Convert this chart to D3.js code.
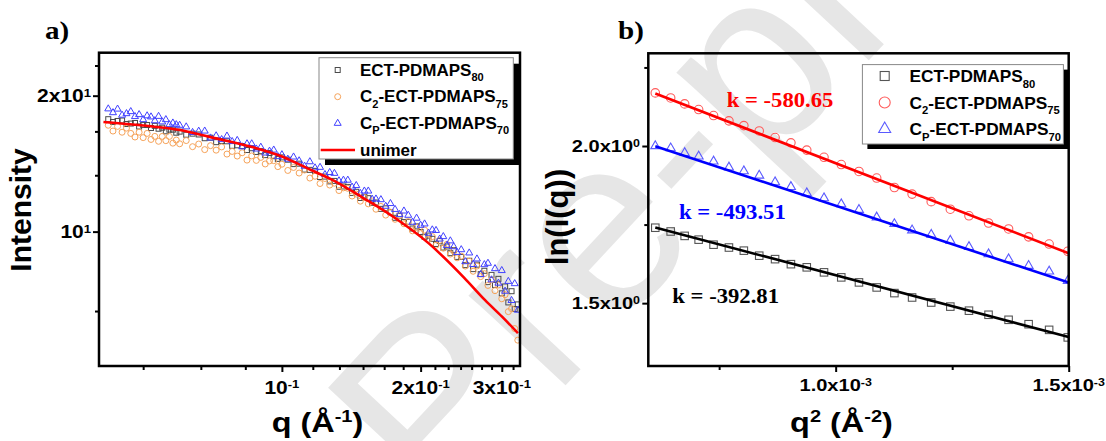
<!DOCTYPE html>
<html><head><meta charset="utf-8">
<script src="https://cdn.jsdelivr.net/npm/d3@7"></script>
<style>body{margin:0;background:#fff}svg{display:block}</style>
</head><body>
<svg id="c" width="1106" height="441"></svg>
<script>
// ---------- DATA ----------
// Panel a: SAXS intensity vs q
const qA = [0.042,0.043,0.044,0.045,0.046,0.047,0.048,0.049,0.050,0.051,0.052,0.053,0.054,0.055,0.056,0.057,0.058,0.059,0.060,
0.062,0.064,0.066,0.068,0.070,0.072,0.074,0.076,0.078,0.080,0.082,0.084,0.086,0.088,0.090,0.092,0.094,0.096,0.098,0.100,
0.103,0.106,0.109,0.112,0.115,0.118,0.121,0.124,0.127,0.130,0.133,0.136,0.139,0.142,0.145,0.148,0.151,0.154,0.157,0.160,
0.164,0.168,0.172,0.176,0.180,0.184,0.188,0.192,0.196,0.200,0.204,0.208,0.212,0.216,0.220,0.224,0.228,0.232,0.236,0.240,
0.245,0.250,0.255,0.260,0.265,0.270,0.275,0.280,0.285,0.290,0.295,0.300,0.305,0.310,0.315,0.320,0.325];
const intECT80 = [17.74,17.49,17.58,17.62,17.31,17.35,17.40,17.09,17.23,17.22,16.96,17.15,16.90,16.99,16.68,16.82,16.82,16.56,16.65,
16.39,16.48,16.41,16.10,16.14,15.78,15.87,15.85,15.49,15.53,15.47,15.16,15.30,15.01,15.07,14.77,14.93,14.69,14.49,14.60,
14.43,14.11,14.14,13.72,13.70,13.63,13.21,13.24,12.92,12.95,12.57,12.59,12.56,12.18,12.25,11.87,11.94,11.86,11.58,11.60,
11.23,11.26,11.04,10.73,10.84,10.50,10.51,10.16,10.27,9.98,9.74,9.80,9.64,9.39,9.53,9.22,9.27,8.96,9.10,8.79,
8.79,8.43,8.62,8.26,8.45,8.05,8.19,7.73,8.02,7.62,7.86,7.30,7.56,6.97,7.38,6.74,6.90];
const intC2 = [17.2,16.7,17.1,16.6,16.95,16.5,16.2,16.6,16.15,16.5,16.0,16.25,15.85,16.25,15.9,16.25,15.7,15.95,15.65,
15.91,15.42,15.63,15.19,15.50,15.15,15.40,14.85,15.05,14.70,14.95,14.40,14.71,14.38,14.60,14.12,14.34,14.36,13.93,14.10,
13.66,13.87,13.48,13.69,13.14,13.26,12.78,13.11,12.68,12.80,12.33,12.50,12.47,11.99,12.11,11.68,11.90,11.52,11.69,11.21,
11.37,10.88,11.04,10.65,10.86,10.41,10.52,10.04,10.22,9.90,10.08,9.61,9.75,9.33,9.56,9.19,9.37,8.92,9.06,8.75,
8.82,8.39,8.60,8.17,8.39,7.95,8.07,7.60,7.82,7.40,7.62,7.10,7.25,6.65,6.75,6.10,5.75];
const intCP = [18.7,18.34,18.68,18.11,18.25,18.44,17.98,18.16,17.7,18.05,17.95,17.6,18.0,17.5,17.7,17.25,17.4,17.25,17.2,
17.06,16.58,16.69,16.70,16.12,16.30,15.99,16.28,15.83,15.92,15.41,15.65,15.65,15.24,15.38,14.93,15.07,15.16,14.66,14.80,
14.47,14.63,14.35,13.96,14.28,13.84,13.88,13.38,13.52,13.46,12.96,13.00,13.00,12.55,12.65,12.15,12.30,12.30,11.80,11.81,
11.77,11.38,11.54,11.20,10.91,11.11,10.87,10.49,10.71,10.33,10.40,9.92,10.09,10.06,9.63,9.75,9.32,9.54,9.26,8.99,
9.12,8.58,8.97,8.46,8.70,8.04,8.45,8.51,7.82,8.28,7.69,8.20,7.38,7.76,7.04,7.67,6.70];
const qUnimer   = [0.041,0.050,0.0596,0.0707,0.0852,0.100,0.115,0.1308,0.150,0.1741,0.208,0.2487,0.276,0.300,0.3253];
const intUnimer = [17.49,17.18,16.81,16.15,15.44,14.67,13.73,12.91,11.88,10.80,9.43,7.90,7.05,6.49,5.96];

const xTicksA = [0.1,0.2,0.3];
const xTickLabelsA = [["10","-1"],["2x10","-1"],["3x10","-1"]];
const xMinorA = [0.05,0.0667,0.0833,0.1167,0.1333,0.15,0.1667,0.1833,0.2148,0.2295,0.2442,0.258,0.2712,0.2851,0.3174];
const yTicksA = [20,10];
const yTickLabelsA = [["2x10","1"],["10","1"]];
const yMinorA = [23.33,16.67,13.33,6.67];

// Panel b: Guinier plot ln(I) vs q^2
const q2B = [0.613e-3,0.646e-3,0.676e-3,0.706e-3,0.738e-3,0.771e-3,0.803e-3,0.836e-3,0.870e-3,0.904e-3,0.938e-3,0.975e-3,1.012e-3,
1.050e-3,1.088e-3,1.126e-3,1.164e-3,1.205e-3,1.246e-3,1.286e-3,1.328e-3,1.371e-3,1.414e-3,1.458e-3,1.498e-3];
const lnECT80 = [1.740,1.728,1.714,1.702,1.686,1.677,1.667,1.651,1.640,1.624,1.614,1.598,1.582,1.566,1.550,1.532,1.518,1.502,1.489,1.476,1.463,1.447,1.433,1.415,1.391];
const lnC2 = [2.169,2.153,2.134,2.116,2.097,2.080,2.065,2.048,2.027,2.010,1.987,1.964,1.941,1.919,1.898,1.868,1.847,1.823,1.799,1.778,1.755,1.736,1.711,1.688,1.665];
const lnCP = [2.000,1.993,1.978,1.967,1.951,1.932,1.920,1.906,1.885,1.870,1.850,1.834,1.815,1.797,1.773,1.752,1.732,1.718,1.699,1.679,1.656,1.640,1.619,1.601,1.571];
const fitX = [0.613e-3,1.5e-3];
const fitECT80 = [1.741,1.392];
const fitC2 = [2.167,1.659];
const fitCP = [1.999,1.5655];
const slopeLabels = ["k = -392.81","k = -580.65","k = -493.51"];

const xTicksB = [1.0e-3,1.5e-3];
const xTickLabelsB = [["1.0x10","-3"],["1.5x10","-3"]];
const xMinorB = [0.75e-3,1.25e-3];
const yTicksB = [2.0,1.5];
const yTickLabelsB = [["2.0x10","0"],["1.5x10","0"]];
const yMinorB = [2.25,1.75];

const legendNames = [["ECT-PDMAPS","80"],["C","2","-ECT-PDMAPS","75"],["C","P","-ECT-PDMAPS","70"]];

// ---------- DRAWING ----------
const svg = d3.select('#c');
const SANS = 'Liberation Sans, Arial, Helvetica, sans-serif';
const SERIF = 'Liberation Serif, Times New Roman, serif';

// watermark (behind, deliberately running off the edges as in the reference)
svg.append('text').text('Pre-proof')
  .attr('transform','translate(440,520) rotate(-47)')
  .attr('font-family',SANS).attr('font-size',250).attr('fill','#e6e6e6');

function rich(g, x, y, parts, o){
  const fs=o.fs, sx=o.sx||1, rot=o.rot||0;
  const t=g.append('text')
    .attr('transform',`translate(${x},${y}) rotate(${rot}) scale(${sx},1)`)
    .attr('font-family',o.ff||SANS).attr('font-weight',o.fw||'bold')
    .attr('font-size',fs).attr('fill',o.fill||'#000')
    .attr('text-anchor',o.anchor||'start');
  let cur=0;
  parts.forEach((p,i)=>{
    const script = i%2===1;
    const target = script ? (o.mode==='sub' ? (o.subShift||0.33)*fs : -(o.supShift||0.34)*fs) : 0;
    t.append('tspan').attr('dy',target-cur).attr('font-size',script?fs*(o.scr||0.62):fs).text(p);
    cur=target;
  });
  return t;
}

function mark(g,type,x,y,s,color,sw){
  if(type==='sq') g.append('rect').attr('x',x-s/2).attr('y',y-s/2).attr('width',s).attr('height',s)
     .attr('fill','none').attr('stroke',color).attr('stroke-width',sw);
  else if(type==='ci') g.append('circle').attr('cx',x).attr('cy',y).attr('r',s/2)
     .attr('fill','none').attr('stroke',color).attr('stroke-width',sw);
  else g.append('path').attr('d',`M${x},${y-s*0.58}L${x-s/2},${y+s*0.29}L${x+s/2},${y+s*0.29}Z`)
     .attr('fill','none').attr('stroke',color).attr('stroke-width',sw);
}

function drawAxes(g, box, xs, ys, xMaj, xMin, yMaj, yMin){
  const ax=g.append('g').attr('transform',`translate(0,${box.b})`);
  ax.call(d3.axisBottom(xs).tickValues(xMaj).tickSize(6).tickFormat(''));
  const ax2=g.append('g').attr('transform',`translate(0,${box.b})`);
  ax2.call(d3.axisBottom(xs).tickValues(xMin).tickSize(4).tickFormat(''));
  const ay=g.append('g').attr('transform',`translate(${box.l},0)`);
  ay.call(d3.axisLeft(ys).tickValues(yMaj).tickSize(6).tickFormat(''));
  const ay2=g.append('g').attr('transform',`translate(${box.l},0)`);
  ay2.call(d3.axisLeft(ys).tickValues(yMin).tickSize(4).tickFormat(''));
  [ax,ax2,ay,ay2].forEach(a=>{a.select('.domain').remove();a.selectAll('line').attr('stroke','#000').attr('stroke-width',2);});
  g.append('rect').attr('x',box.l).attr('y',box.t).attr('width',box.r-box.l).attr('height',box.b-box.t)
    .attr('fill','none').attr('stroke','#000').attr('stroke-width',2.5);
}

function legendBox(g,x0,y0,x1,y1,off){
  g.append('rect').attr('x',x0+off).attr('y',y0+off).attr('width',x1-x0).attr('height',y1-y0).attr('fill','#000');
  g.append('rect').attr('x',x0).attr('y',y0).attr('width',x1-x0).attr('height',y1-y0)
    .attr('fill','#fff').attr('stroke','#888').attr('stroke-width',1);
}

// ===== Panel a =====
const A={l:99,r:520,t:52.7,b:366};
const xA=d3.scaleLog().domain([0.0401,0.3286]).range([A.l,A.r]);
const yA=d3.scaleLog().domain([5.04,24.9]).range([A.b,A.t]);
const gA=svg.append('g');
svg.append('clipPath').attr('id','clipA').append('rect').attr('x',A.l).attr('y',A.t).attr('width',A.r-A.l).attr('height',A.b-A.t);
svg.append('clipPath').attr('id','clipB').append('rect').attr('x',648.3).attr('y',53.3).attr('width',420.4).attr('height',312.7);

const pA=gA.append('g').attr('clip-path','url(#clipA)');
qA.forEach((q,i)=>mark(pA,'sq',xA(q),yA(intECT80[i]),5,'#4a4a4a',1));
qA.forEach((q,i)=>mark(pA,'ci',xA(q),yA(intC2[i]),6,'#f6a35a',1));
qA.forEach((q,i)=>mark(pA,'tr',xA(q),yA(intCP[i]),7,'#4040ff',1));
pA.append('path').datum(qUnimer.map((q,i)=>[q,intUnimer[i]]))
  .attr('d',d3.line().x(d=>xA(d[0])).y(d=>yA(d[1])).curve(d3.curveMonotoneX))
  .attr('fill','none').attr('stroke','#ff0000').attr('stroke-width',2.6);

drawAxes(gA,A,xA,yA,xTicksA,xMinorA,yTicksA,yMinorA);
xTicksA.forEach((v,i)=>rich(gA,xA(v),394,xTickLabelsA[i],{fs:17.5,sx:1.2,anchor:'middle',supShift:0.32}));
yTicksA.forEach((v,i)=>rich(gA,91,yA(v)+6.5,yTickLabelsA[i],{fs:17.5,sx:1.2,anchor:'end',supShift:0.32}));

rich(gA,31,210,["Intensity"],{fs:30,rot:-90,anchor:'middle'});
rich(gA,317.5,432,["q (Å","-1",")"],{fs:27,sx:1.2,anchor:'middle',supShift:0.38});
rich(gA,45,39,["a)"],{fs:26,sx:1.12,ff:SERIF});

legendBox(gA,319,57.7,513.3,159,6);
const rowsA=[70,96.7,123.3,150];
mark(gA,'sq',337.7,rowsA[0],5,'#4a4a4a',1);
mark(gA,'ci',337.7,rowsA[1],6,'#f6a35a',1);
mark(gA,'tr',337.7,rowsA[2],7,'#4040ff',1);
gA.append('line').attr('x1',320.7).attr('x2',355).attr('y1',rowsA[3]).attr('y2',rowsA[3]).attr('stroke','#ff0000').attr('stroke-width',2.6);
legendNames.forEach((n,i)=>rich(gA,360,rowsA[i]+5.5,n,{fs:17,mode:'sub',scr:0.65}));
rich(gA,360,rowsA[3]+5.5,["unimer"],{fs:17});

// ===== Panel b =====
const B={l:648.3,r:1068.7,t:53.3,b:366};
const xB=d3.scaleLinear().domain([0.598e-3,1.5e-3]).range([B.l,B.r]);
const yB=d3.scaleLinear().domain([1.30,2.295]).range([B.b,B.t]);
const gB=svg.append('g');
const pB=gB.append('g').attr('clip-path','url(#clipB)');
q2B.forEach((q,i)=>mark(pB,'sq',xB(q),yB(lnECT80[i]),7.5,'#555',1.1));
q2B.forEach((q,i)=>mark(pB,'ci',xB(q),yB(lnC2[i]),8.5,'#ff5c5c',1.1));
q2B.forEach((q,i)=>mark(pB,'tr',xB(q),yB(lnCP[i]),9,'#5a5aff',1.1));
const fits=[[fitECT80,'#000'],[fitC2,'#ff0000'],[fitCP,'#0000ff']];
fits.forEach(([f,c])=>pB.append('line').attr('x1',xB(fitX[0])).attr('x2',xB(fitX[1]))
  .attr('y1',yB(f[0])).attr('y2',yB(f[1])).attr('stroke',c).attr('stroke-width',2.6));

drawAxes(gB,B,xB,yB,xTicksB,xMinorB,yTicksB,yMinorB);
xTicksB.forEach((v,i)=>rich(gB,xB(v),391,xTickLabelsB[i],{fs:17,sx:1.18,anchor:'middle',supShift:0.32}));
yTicksB.forEach((v,i)=>rich(gB,640,yB(v)+6.3,yTickLabelsB[i],{fs:17,sx:1.18,anchor:'end',supShift:0.32}));

rich(gB,568,217,["ln(I(q))"],{fs:31,rot:-90,anchor:'middle'});
rich(gB,841.5,432,["q","2"," (Å","-2",")"],{fs:27,sx:1.2,anchor:'middle',supShift:0.38});
rich(gB,618,39,["b)"],{fs:26,sx:1.12,ff:SERIF});

const kPos=[[672.3,303,'#000'],[726.7,107,'#ff0000'],[679,219,'#0000ff']];
slopeLabels.forEach((s,i)=>rich(gB,kPos[i][0],kPos[i][1],[s],{fs:21,sx:1.08,ff:SERIF,fill:kPos[i][2]}));

legendBox(gB,862.4,64.6,1063.4,144,5);
const rowsB=[76,102.5,129];
mark(gB,'sq',884.7,rowsB[0],9,'#555',1.1);
mark(gB,'ci',884.7,rowsB[1],11,'#ff5c5c',1.1);
mark(gB,'tr',884.7,rowsB[2],12,'#5a5aff',1.1);
legendNames.forEach((n,i)=>rich(gB,909.5,rowsB[i]+6,n,{fs:17.3,mode:'sub',scr:0.65}));
</script></body></html>
